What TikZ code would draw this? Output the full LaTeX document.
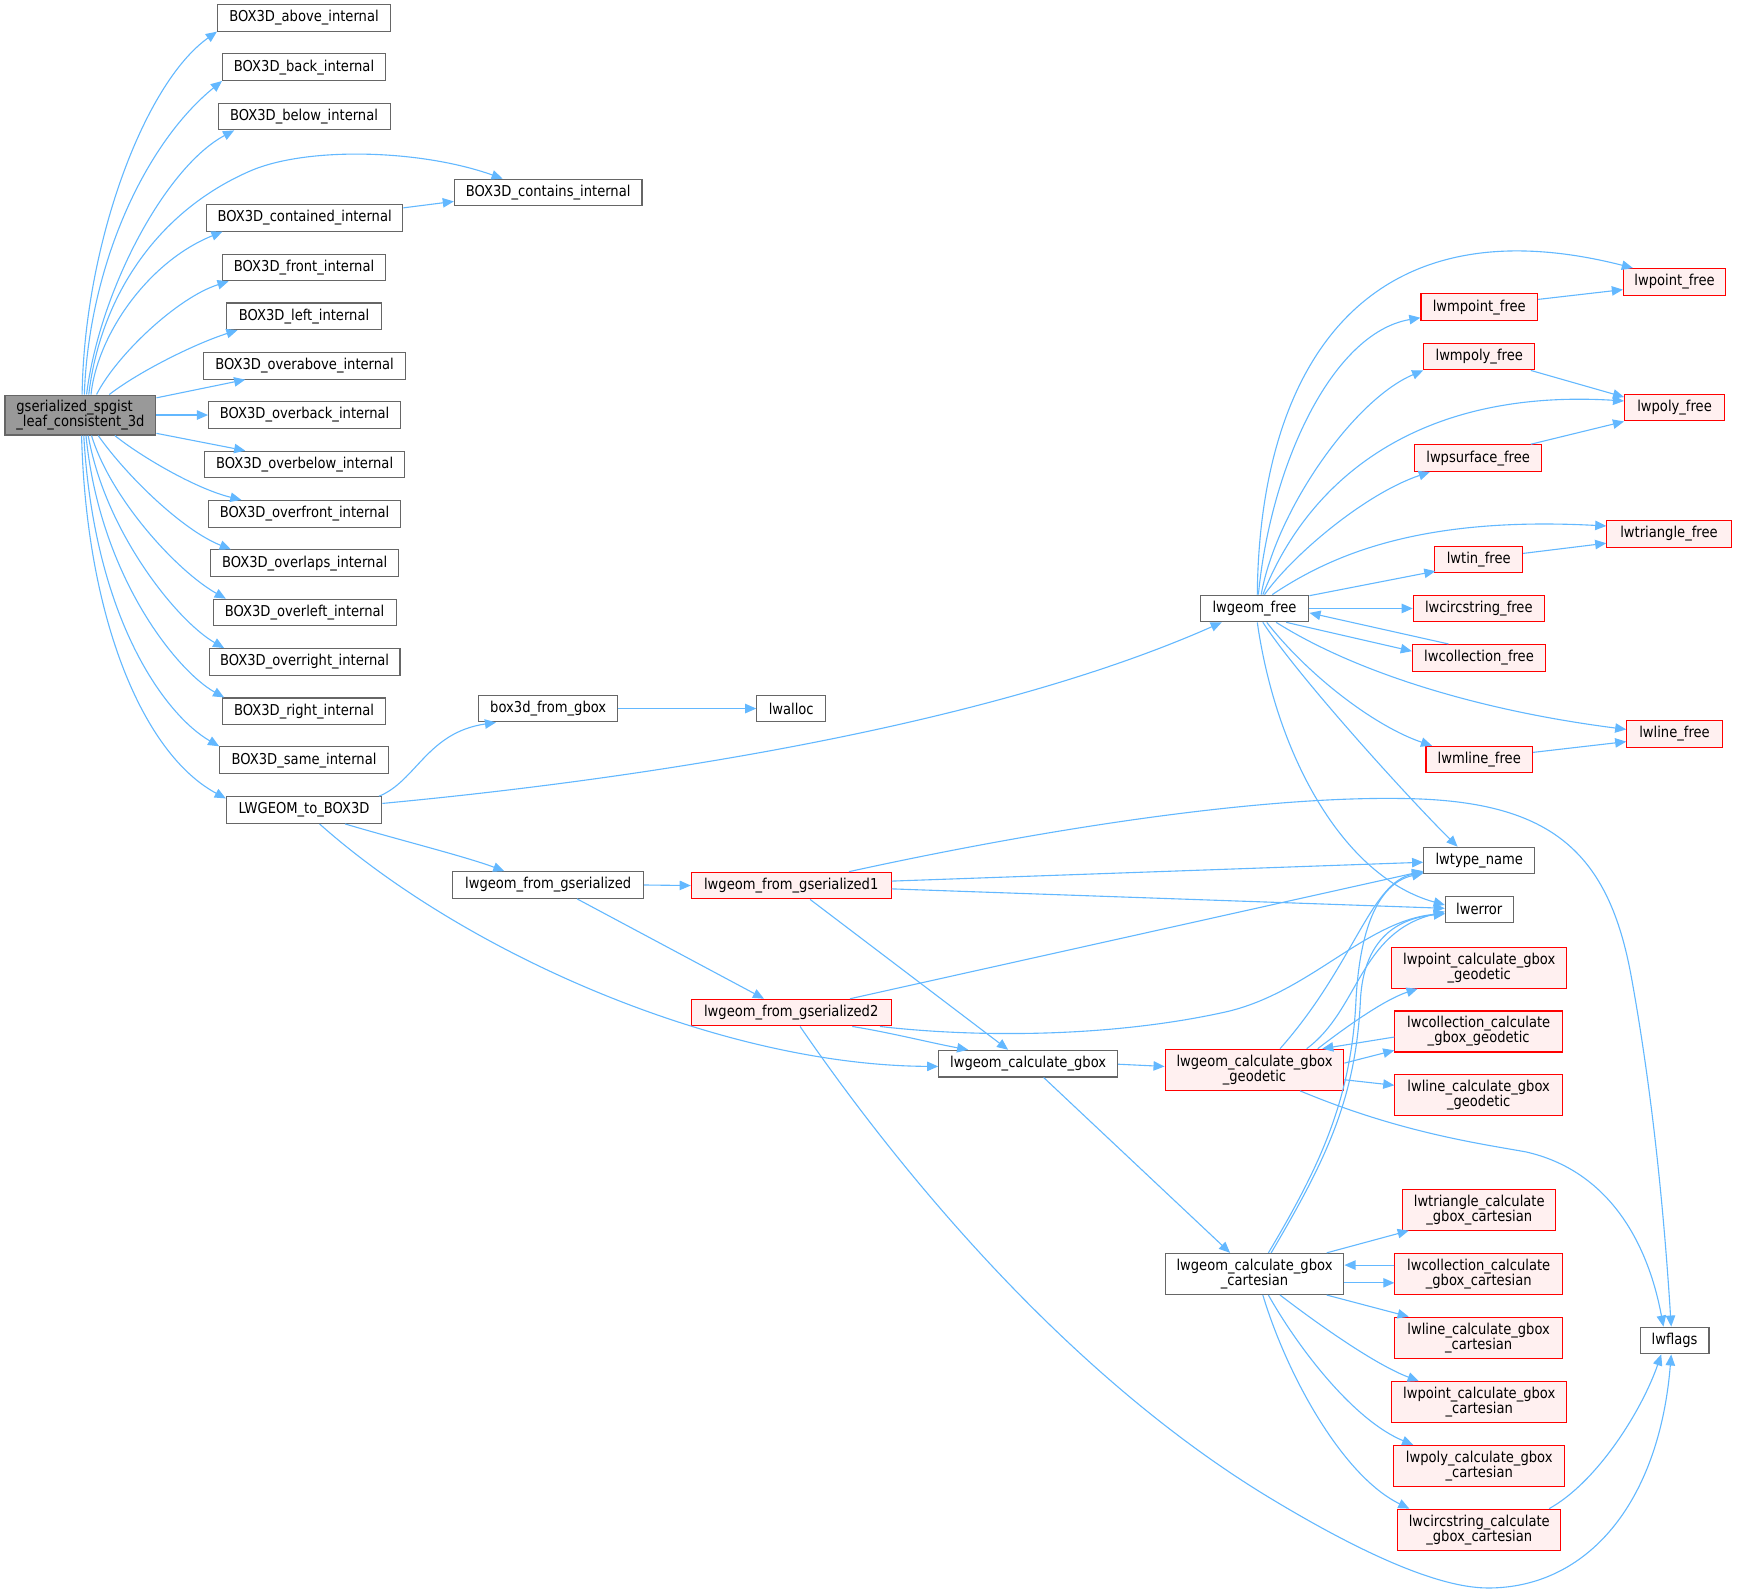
\documentclass[tikz,border=0pt]{standalone}
\usepackage{fontspec}
\newfontfamily\dxfont{DejaVu Sans}[FakeStretch=0.875]
\usetikzlibrary{arrows.meta,calc}
\definecolor{edgec}{HTML}{63B8FF}
\definecolor{boxc}{HTML}{666666}
\definecolor{redfill}{HTML}{FFF0F0}
\definecolor{mainfill}{HTML}{999999}
\begin{document}
\begin{tikzpicture}[x=1pt,y=-1pt,
  nb/.style={draw=boxc, fill=white, line width=1pt, inner sep=0pt, minimum height=24pt,
    font={\dxfont\fontsize{13.5pt}{13.5pt}\selectfont}, text=black},
  rb/.style={nb, draw=red, fill=redfill},
  twoline/.style={align=center, minimum height=37pt},
  edg/.style={draw=edgec, line width=1pt, -{Triangle[length=10pt,width=8.5pt]}},
]
\useasboundingbox (0,0) rectangle (1568,1436);

% ---------- nodes ----------
\node[nb, fill=mainfill, align=left, minimum width=136pt, minimum height=36pt] (M) at (72.5,374) {gserialized\_spgist\\\_leaf\_consistent\_3d};

\node[nb, minimum width=156pt] (above) at (274,16) {BOX3D\_above\_internal};
\node[nb, minimum width=147pt] (back) at (274,60.5) {BOX3D\_back\_internal};
\node[nb, minimum width=155pt] (below) at (274,105) {BOX3D\_below\_internal};
\node[nb, minimum width=169pt] (contains) at (494,173.5) {BOX3D\_contains\_internal};
\node[nb, minimum width=177pt] (contained) at (274.5,196.3) {BOX3D\_contained\_internal};
\node[nb, minimum width=147pt] (front) at (274,241) {BOX3D\_front\_internal};
\node[nb, minimum width=139pt] (left) at (274,285) {BOX3D\_left\_internal};
\node[nb, minimum width=182pt] (overabove) at (274.5,329.6) {BOX3D\_overabove\_internal};
\node[nb, minimum width=173pt] (overback) at (274.5,374) {BOX3D\_overback\_internal};
\node[nb, minimum width=180pt] (overbelow) at (274.5,418.6) {BOX3D\_overbelow\_internal};
\node[nb, minimum width=173pt] (overfront) at (274.5,463) {BOX3D\_overfront\_internal};
\node[nb, minimum width=170pt] (overlaps) at (274.5,507.5) {BOX3D\_overlaps\_internal};
\node[nb, minimum width=165pt] (overleft) at (274.5,552) {BOX3D\_overleft\_internal};
\node[nb, minimum width=172pt] (overright) at (274.5,596.5) {BOX3D\_overright\_internal};
\node[nb, minimum width=147pt] (right) at (274,641) {BOX3D\_right\_internal};
\node[nb, minimum width=152pt] (same) at (274,685) {BOX3D\_same\_internal};
\node[nb, minimum width=140pt] (L2B) at (274,730) {LWGEOM\_to\_BOX3D};

\node[nb, minimum width=125pt] (box3d) at (494,638.5) {box3d\_from\_gbox};
\node[nb, minimum width=62pt] (lwalloc) at (713,638.5) {lwalloc};
\node[nb, minimum width=172pt] (fromgs) at (494,797.5) {lwgeom\_from\_gserialized};
\node[rb, minimum width=180pt] (gs1) at (713,798) {lwgeom\_from\_gserialized1};
\node[rb, minimum width=180pt] (gs2) at (713,912.5) {lwgeom\_from\_gserialized2};
\node[nb, minimum width=161pt] (calcgbox) at (926.5,958.5) {lwgeom\_calculate\_gbox};
\node[rb, twoline, minimum width=161pt] (geod) at (1130.5,964) {lwgeom\_calculate\_gbox\\\_geodetic};
\node[nb, twoline, minimum width=161pt] (cart) at (1130.5,1148) {lwgeom\_calculate\_gbox\\\_cartesian};
\node[nb, minimum width=98pt] (lwgeomfree) at (1130.5,548.3) {lwgeom\_free};

\node[rb, minimum width=105pt] (lwmpointfree) at (1333,276.8) {lwmpoint\_free};
\node[rb, minimum width=100pt] (lwmpolyfree) at (1333,321.3) {lwmpoly\_free};
\node[rb, minimum width=114pt] (lwpsurfacefree) at (1332,412.8) {lwpsurface\_free};
\node[rb, minimum width=79pt] (lwtinfree) at (1332.5,504.2) {lwtin\_free};
\node[rb, minimum width=118pt] (lwcircstringfree) at (1332.6,548.3) {lwcircstring\_free};
\node[rb, minimum width=120pt] (lwcollectionfree) at (1332.8,592.8) {lwcollection\_free};
\node[rb, minimum width=96pt] (lwmlinefree) at (1333,684.5) {lwmline\_free};
\node[nb, minimum width=100pt] (lwtypename) at (1333,775.5) {lwtype\_name};
\node[nb, minimum width=61pt] (lwerror) at (1333,819.5) {lwerror};
\node[rb, twoline, minimum width=158pt] (lwpointgeod) at (1333,872) {lwpoint\_calculate\_gbox\\\_geodetic};
\node[rb, twoline, minimum width=151pt] (lwcollgeod) at (1332.5,929.5) {lwcollection\_calculate\\\_gbox\_geodetic};
\node[rb, twoline, minimum width=151pt] (lwlinegeod) at (1332.5,987) {lwline\_calculate\_gbox\\\_geodetic};
\node[rb, twoline, minimum width=138pt] (lwtricart) at (1333,1090) {lwtriangle\_calculate\\\_gbox\_cartesian};
\node[rb, twoline, minimum width=151pt] (lwcollcart) at (1332.5,1148) {lwcollection\_calculate\\\_gbox\_cartesian};
\node[rb, twoline, minimum width=151pt] (lwlinecart) at (1332.5,1205.5) {lwline\_calculate\_gbox\\\_cartesian};
\node[rb, twoline, minimum width=158pt] (lwpointcart) at (1333,1263.5) {lwpoint\_calculate\_gbox\\\_cartesian};
\node[rb, twoline, minimum width=154pt] (lwpolycart) at (1333,1321) {lwpoly\_calculate\_gbox\\\_cartesian};
\node[rb, twoline, minimum width=147pt] (lwcirccart) at (1333,1378.5) {lwcircstring\_calculate\\\_gbox\_cartesian};

\node[rb, minimum width=92pt] (lwpointfree) at (1509,254) {lwpoint\_free};
\node[rb, minimum width=90pt] (lwpolyfree) at (1509,367.3) {lwpoly\_free};
\node[rb, minimum width=112pt] (lwtrianglefree) at (1504,481) {lwtriangle\_free};
\node[rb, minimum width=86pt] (lwlinefree) at (1509,661.3) {lwline\_free};
\node[nb, minimum width=62pt] (lwflags) at (1509,1208) {lwflags};

% ---------- edges from main node ----------
\draw[edg] ($(M.north)+(1.5,0)$) .. controls (76,220) and (130,75) .. (above.south west);
\draw[edg] ($(M.north)+(3.5,0)$) .. controls (80,240) and (130,130) .. (back.south west);
\draw[edg] ($(M.north)+(5.5,0)$) .. controls (90,260) and (150,150) .. ($(below.south west)+(15,0)$);
\draw[edg] ($(M.north)+(7.5,0)$) .. controls (90,270) and (140,190) .. (228,153) .. controls (280,132) and (380,135) .. ($(contains.north west)+(44,0)$);
\draw[edg] ($(M.north)+(9.5,0)$) .. controls (88,300) and (135,235) .. ($(contained.south west)+(15,0)$);
\draw[edg] ($(M.north)+(14.5,0)$) .. controls (105,320) and (160,268) .. ($(front.south west)+(6,0)$);
\draw[edg] ($(M.north)+(26,0)$) .. controls (125,335) and (175,310) .. ($(left.south west)+(10,0)$);
\draw[edg] ($(M.north east)+(0,3)$) -- ($(overabove.south west)+(38,0)$);
\draw[edg] (M.east) -- (overback.west);
\draw[edg] ($(M.south east)+(0,-2)$) -- ($(overbelow.north west)+(37,0)$);
\draw[edg] ($(M.south)+(31,0)$) .. controls (125,410) and (175,440) .. ($(overfront.north west)+(30,0)$);
\draw[edg] ($(M.south)+(16,0)$) .. controls (115,430) and (165,478) .. ($(overlaps.north west)+(19,0)$);
\draw[edg] ($(M.south)+(10,0)$) .. controls (100,450) and (160,515) .. ($(overleft.north west)+(12,0)$);
\draw[edg] ($(M.south)+(7,0)$) .. controls (95,480) and (160,560) .. ($(overright.north west)+(14,0)$);
\draw[edg] ($(M.south)+(5,0)$) .. controls (90,520) and (160,605) .. ($(right.north west)+(2,0)$);
\draw[edg] ($(M.south)+(3,0)$) .. controls (85,560) and (150,645) .. (same.north west);
\draw[edg] ($(M.south)+(1,0)$) .. controls (78,560) and (130,680) .. ($(L2B.north west)+(0,2)$);
\draw[edg] ($(contained.east)+(0,-9)$) -- ($(contains.west)+(0,8)$);

% ---------- LWGEOM_to_BOX3D ----------
\draw[edg] ($(L2B.north east)+(-3,0)$) .. controls (375,704) and (385,660) .. ($(box3d.south west)+(16,0)$);
\draw[edg] ($(L2B.east)+(0,-6)$) .. controls (600,700) and (900,650) .. ($(lwgeomfree.south west)+(20,0)$);
\draw[edg] ($(L2B.south)+(37,0)$) .. controls (360,757) and (420,772) .. ($(fromgs.north west)+(47,0)$);
\draw[edg] ($(L2B.south)+(14,0)$) .. controls (420,860) and (650,960) .. ($(calcgbox.west)+(0,2.5)$);
\draw[edg] (box3d.east) -- (lwalloc.west);

% ---------- lwgeom_from_gserialized ----------
\draw[edg] (fromgs.east) -- (gs1.west);
\draw[edg] ($(fromgs.south)+(26,0)$) -- ($(gs2.north west)+(66,0)$);

\draw[edg] ($(gs1.north)+(52,0)$) .. controls (950,745) and (1150,715) .. (1280,720)
  .. controls (1400,725) and (1450,770) .. (1470,880)
  .. controls (1490,990) and (1500,1100) .. ($(lwflags.north)+(-3,0)$);
\draw[edg] ($(gs1.east)+(0,-4)$) -- ($(lwtypename.west)+(0,1.5)$);
\draw[edg] ($(gs1.east)+(0,3)$) -- ($(lwerror.west)+(0,-1)$);
\draw[edg] ($(gs1.south)+(17,0)$) -- ($(calcgbox.north west)+(63,0)$);

\draw[edg] ($(gs2.north)+(53,0)$) -- ($(lwtypename.south west)+(0,-3)$);
\draw[edg] ($(gs2.south)+(80,0)$) .. controls (880,935) and (1000,935) .. (1104,912)
  .. controls (1180,895) and (1230,830) .. ($(lwerror.west)+(0,3.5)$);
\draw[edg] ($(gs2.south)+(55,0)$) .. controls (800,930) and (840,940) .. ($(calcgbox.north west)+(27,0)$);
\draw[edg] ($(gs2.south)+(8,0)$) .. controls (800,1040) and (950,1230) .. (1138,1346)
  .. controls (1210,1390) and (1290,1431) .. (1341,1431)
  .. controls (1430,1431) and (1495,1355) .. ($(lwflags.south)+(-3,0)$);

% ---------- lwgeom_calculate_gbox ----------
\draw[edg] ($(calcgbox.east)+(0,0.5)$) -- ($(geod.west)+(0,-3)$);
\draw[edg] ($(calcgbox.south)+(14,0)$) -- ($(cart.north west)+(59,0)$);

% ---------- geodetic ----------
\draw[edg] ($(geod.north)+(23,0)$) .. controls (1220,870) and (1235,795) .. ($(lwtypename.south west)+(0,-2)$);
\draw[edg] ($(geod.north)+(47,0)$) .. controls (1225,910) and (1225,840) .. ($(lwerror.west)+(0,2)$);
\draw[edg] ($(geod.north)+(57,0)$) .. controls (1220,920) and (1250,900) .. ($(lwpointgeod.south west)+(24,0)$);
\draw[edg] ($(lwcollgeod.west)+(0,5)$) -- ($(geod.north east)+(-20,0)$);
\draw[edg] ($(geod.east)+(0,-6)$) -- ($(lwcollgeod.south west)+(0,-2)$);
\draw[edg] ($(geod.east)+(0,9)$) -- ($(lwlinegeod.west)+(0,-9)$);
\draw[edg] ($(geod.south)+(41,0)$) .. controls (1260,1020) and (1330,1030) .. (1375,1038)
  .. controls (1450,1055) and (1485,1120) .. ($(lwflags.north)+(-10,0)$);

% ---------- cartesian ----------
\draw[edg] ($(cart.north)+(12.5,0)$) .. controls (1190,1050) and (1218,990) .. (1222,900)
  .. controls (1226,830) and (1245,795) .. ($(lwtypename.south west)+(0,-1)$);
\draw[edg] ($(cart.north)+(15,0)$) .. controls (1195,1045) and (1222,990) .. (1226,900)
  .. controls (1229,850) and (1255,828) .. ($(lwerror.west)+(0,4)$);
\draw[edg] ($(cart.north)+(65,0)$) -- ($(lwtricart.south west)+(6,0)$);
\draw[edg] ($(lwcollcart.west)+(0,-8)$) -- ($(cart.east)+(0,-8)$);
\draw[edg] ($(cart.east)+(0,8)$) -- ($(lwcollcart.west)+(0,8)$);
\draw[edg] ($(cart.south)+(65,0)$) -- ($(lwlinecart.north west)+(13,0)$);
\draw[edg] ($(cart.south)+(23,0)$) .. controls (1190,1195) and (1240,1230) .. ($(lwpointcart.north west)+(25,0)$);
\draw[edg] ($(cart.south)+(12.5,0)$) .. controls (1170,1215) and (1220,1280) .. ($(lwpolycart.north west)+(18,0)$);
\draw[edg] ($(cart.south)+(7.5,0)$) .. controls (1160,1240) and (1210,1330) .. ($(lwcirccart.north west)+(11,0)$);
\draw[edg] ($(lwcirccart.north east)+(-11,0)$) .. controls (1440,1335) and (1480,1270) .. ($(lwflags.south)+(-12,0)$);

% ---------- lwgeom_free ----------
\draw[edg] ($(lwgeomfree.north)+(2.5,0)$) .. controls (1135,330) and (1230,180) .. ($(lwpointfree.north west)+(9,0)$);
\draw[edg] ($(lwgeomfree.north)+(3.5,0)$) .. controls (1145,420) and (1200,300) .. ($(lwmpointfree.south west)+(0,-3)$);
\draw[edg] ($(lwgeomfree.north)+(6,0)$) .. controls (1150,460) and (1220,360) .. (lwmpolyfree.south west);
\draw[edg] ($(lwgeomfree.north)+(7.5,0)$) .. controls (1180,430) and (1280,350) .. ($(lwpolyfree.west)+(0,-6)$);
\draw[edg] ($(lwgeomfree.north)+(9,0)$) .. controls (1165,500) and (1230,445) .. ($(lwpsurfacefree.south west)+(14,0)$);
\draw[edg] ($(lwgeomfree.north)+(16,0)$) .. controls (1200,500) and (1280,465) .. ($(lwtrianglefree.west)+(0,-7)$);
\draw[edg] ($(lwgeomfree.north east)+(0,1)$) -- ($(lwtinfree.south west)+(1,-2)$);
\draw[edg] (lwgeomfree.east) -- (lwcircstringfree.west);
\draw[edg] ($(lwcollectionfree.north west)+(33,0)$) -- ($(lwgeomfree.east)+(0,4)$);
\draw[edg] ($(lwgeomfree.south east)+(-21,0)$) -- ($(lwcollectionfree.west)+(0,-6)$);
\draw[edg] ($(lwgeomfree.south)+(19.5,0)$) .. controls (1220,605) and (1330,640) .. ($(lwlinefree.west)+(0,-4)$);
\draw[edg] ($(lwgeomfree.south)+(11,0)$) .. controls (1180,610) and (1240,655) .. ($(lwmlinefree.north west)+(6,0)$);
\draw[edg] ($(lwgeomfree.south)+(7.5,0)$) .. controls (1170,610) and (1270,720) .. ($(lwtypename.north west)+(31,0)$);
\draw[edg] ($(lwgeomfree.south)+(2.5,0)$) .. controls (1150,680) and (1210,790) .. ($(lwerror.west)+(0,-4)$);

% ---------- small edges ----------
\draw[edg] ($(lwmpointfree.east)+(0,-7)$) -- ($(lwpointfree.west)+(0,7)$);
\draw[edg] ($(lwmpolyfree.south east)+(-4,0)$) -- ($(lwpolyfree.north west)+(0,3)$);
\draw[edg] ($(lwpsurfacefree.north east)+(-10,0)$) -- (lwpolyfree.south west);
\draw[edg] ($(lwtinfree.east)+(0,-5.5)$) -- ($(lwtrianglefree.west)+(0,8.5)$);
\draw[edg] ($(lwmlinefree.east)+(0,-6.5)$) -- ($(lwlinefree.west)+(0,7)$);
\end{tikzpicture}
\end{document}
